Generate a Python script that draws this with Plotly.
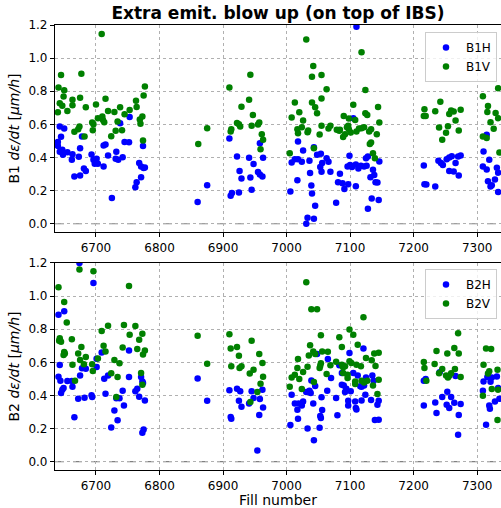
import plotly.graph_objects as go

# ---------------- data ----------------
b1h_fill = [6643, 6650, 6645, 6640, 6640, 6643, 6647, 6648, 6655, 6663, 6662, 6673, 6675, 6678,
            6666, 6675, 6681, 6684, 6693, 6696, 6701, 6698, 6703, 6712, 6712, 6715, 6719, 6731,
            6732, 6735, 6738, 6742, 6745, 6752, 6753, 6725, 6768, 6771, 6775, 6777, 6774, 6771,
            6764, 6762, 6860,
            6875, 6910, 6958, 6922, 6941, 6963, 6948, 6926, 6929, 6943, 6955, 6958, 6962, 6914,
            6912, 6925, 6945,
            7110, 7105, 7018, 7026, 7043, 7013, 7008, 7018, 7024, 7036, 7048, 7054, 7063, 7066,
            7056, 7053, 7055, 7069, 7037, 7017, 7039, 7040, 7006, 7045, 7033, 7043, 7031, 7078,
            7084, 7081, 7088, 7091, 7097, 7109, 7099, 7096, 7100, 7103, 7109, 7113, 7117, 7122,
            7126, 7125, 7128, 7136, 7138, 7132, 7140, 7143, 7146, 7134, 7145, 7128,
            7216, 7217, 7220, 7234, 7239, 7243, 7246, 7252, 7256, 7260, 7266, 7270, 7274, 7256,
            7263, 7271, 7315, 7310, 7309, 7315, 7319, 7317, 7321, 7323, 7328, 7331, 7333, 7333]
b1h_val = [0.587, 0.575, 0.525, 0.494, 0.470, 0.434, 0.446, 0.416, 0.432, 0.420, 0.386, 0.404,
           0.456, 0.527, 0.285, 0.291, 0.334, 0.318, 0.418, 0.386, 0.392, 0.362, 0.362, 0.346,
           0.472, 0.478, 0.412, 0.392, 0.434, 0.386, 0.607, 0.402, 0.494, 0.492, 0.645, 0.155,
           0.366, 0.346, 0.336, 0.340, 0.470, 0.281, 0.251, 0.221, 0.131,
           0.233, 0.515, 0.486, 0.406, 0.398, 0.398, 0.360, 0.318, 0.273, 0.279, 0.312, 0.297,
           0.285, 0.185, 0.169, 0.189, 0.205,
           1.190, 0.637, 0.496, 0.442, 0.462, 0.390, 0.370, 0.390, 0.374, 0.380, 0.416, 0.422,
           0.396, 0.374, 0.366, 0.342, 0.314, 0.314, 0.306, 0.263, 0.231, 0.183, 0.195, 0.109,
           0.036, 0.030, 0.000, 0.127, 0.302, 0.251, 0.245, 0.209, 0.239, 0.227, 0.410, 0.346,
           0.354, 0.342, 0.358, 0.334, 0.350, 0.346, 0.350, 0.396, 0.406, 0.326, 0.295, 0.281,
           0.251, 0.249, 0.376, 0.153, 0.143, 0.090,
           0.352, 0.239, 0.237, 0.225, 0.380, 0.366, 0.354, 0.390, 0.400, 0.408, 0.366, 0.406,
           0.412, 0.318, 0.316, 0.291, 0.537, 0.436, 0.346, 0.328, 0.386, 0.257, 0.225, 0.233,
           0.267, 0.338, 0.308, 0.191]

b1v_fill = [6709, 6645, 6677, 6641, 6650, 6777, 6643, 6647, 6649, 6663, 6675, 6663, 6640, 6655,
            6684, 6700, 6715, 6719, 6729, 6738, 6745, 6753, 6763, 6764, 6775, 6773, 6769, 6770,
            6694, 6696, 6703, 6710, 6711, 6713, 6734, 6724, 6731, 6741, 6695, 6674, 6672, 6666,
            6682, 6774, 6861,
            6875, 6910, 6943, 6941, 6929, 6947, 6922, 6925, 6927, 6913, 6912, 6945, 6955, 6957,
            6961, 6963, 6959,
            7031, 7118, 7042, 7040, 7055, 7063, 7124, 7013, 7040, 7055, 7045, 7048, 7020, 7008,
            7026, 7105, 7144, 7124, 7127, 7090, 7098, 7108, 7146, 7017, 7018, 7024, 7034, 7033,
            7055, 7052, 7066, 7069, 7079, 7083, 7084, 7092, 7089, 7095, 7097, 7098, 7101, 7110,
            7114, 7118, 7122, 7130, 7133, 7142, 7133, 7131, 7136, 7139, 7005, 7043,
            7217, 7216, 7219, 7234, 7242, 7256, 7259, 7263, 7266, 7274, 7240, 7254, 7251, 7271,
            7245, 7309, 7333, 7317, 7316, 7329, 7333, 7321, 7326, 7309, 7315, 7335]
b1v_val = [1.146, 0.898, 0.905, 0.822, 0.806, 0.828, 0.728, 0.712, 0.768, 0.748, 0.760, 0.716,
           0.673, 0.681, 0.703, 0.720, 0.754, 0.681, 0.675, 0.703, 0.661, 0.687, 0.742, 0.705,
           0.774, 0.647, 0.629, 0.603, 0.611, 0.601, 0.637, 0.647, 0.627, 0.613, 0.617, 0.529,
           0.561, 0.565, 0.565, 0.587, 0.571, 0.555, 0.527, 0.503, 0.482,
           0.577, 0.822, 0.900, 0.748, 0.706, 0.657, 0.609, 0.601, 0.587, 0.571, 0.557, 0.591,
           0.599, 0.611, 0.541, 0.507, 0.450,
           1.113, 1.035, 0.953, 0.888, 0.898, 0.812, 0.808, 0.732, 0.732, 0.756, 0.703, 0.667,
           0.673, 0.641, 0.623, 0.718, 0.705, 0.667, 0.657, 0.651, 0.635, 0.627, 0.611, 0.571,
           0.547, 0.583, 0.563, 0.553, 0.591, 0.539, 0.575, 0.591, 0.567, 0.561, 0.567, 0.541,
           0.523, 0.583, 0.591, 0.571, 0.551, 0.557, 0.575, 0.577, 0.583, 0.557, 0.571, 0.541,
           0.490, 0.482, 0.426, 0.396, 0.426, 0.456,
           0.691, 0.651, 0.651, 0.679, 0.736, 0.663, 0.683, 0.677, 0.623, 0.689, 0.581, 0.589,
           0.549, 0.563, 0.507, 0.770, 0.818, 0.711, 0.675, 0.669, 0.637, 0.613, 0.573, 0.527,
           0.517, 0.430]

b2h_fill = [6674, 6696, 6641, 6650, 6643, 6641, 6644, 6655, 6645, 6647, 6649, 6662, 6663, 6666,
            6672, 6675, 6678, 6684, 6682, 6693, 6694, 6701, 6701, 6709, 6713, 6719, 6715, 6729,
            6734, 6724, 6732, 6737, 6742, 6744, 6752, 6752, 6762, 6765, 6768, 6771, 6773, 6774,
            6777, 6775, 6773, 6860,
            6875, 6910, 6922, 6927, 6945, 6962, 6948, 6958, 6925, 6941, 6929, 6963, 6912, 6913,
            6957, 6954,
            7121, 7099, 7048, 7065, 7083, 7087, 7112, 7105, 7135, 7137, 7125, 7070, 7039, 7045,
            7087, 7090, 7094, 7101, 7092, 7116, 7118, 7122, 7031, 7036, 7038, 7064, 7008, 7124,
            7013, 7019, 7024, 7026, 7017, 7042, 7055, 7078, 7097, 7097, 7108, 7118, 7133, 7145,
            7143, 7109, 7110, 7056, 7080, 7053, 7054, 7018, 7006, 7033, 7052, 7043, 7139, 7145,
            7266, 7241, 7219, 7216, 7253, 7245, 7259, 7234, 7252, 7256, 7264, 7274, 7216, 7236,
            7271, 7270, 7316, 7323, 7331, 7310, 7321, 7333, 7309, 7335, 7328, 7319, 7320, 7314]
b2h_val = [1.200, 1.079, 0.888, 0.908, 0.584, 0.513, 0.489, 0.487, 0.415, 0.435, 0.445, 0.487,
           0.453, 0.268, 0.381, 0.521, 0.564, 0.562, 0.387, 0.401, 0.391, 0.572, 0.622, 0.660,
           0.501, 0.521, 0.411, 0.310, 0.250, 0.207, 0.383, 0.383, 0.429, 0.340, 0.672, 0.511,
           0.425, 0.441, 0.393, 0.511, 0.485, 0.475, 0.370, 0.195, 0.175, 0.503,
           0.368, 0.431, 0.441, 0.425, 0.425, 0.435, 0.385, 0.379, 0.368, 0.352, 0.332, 0.328,
           0.270, 0.260, 0.282, 0.068,
           0.683, 0.656, 0.650, 0.620, 0.582, 0.536, 0.521, 0.536, 0.521, 0.489, 0.509, 0.505,
           0.491, 0.457, 0.465, 0.461, 0.441, 0.425, 0.421, 0.455, 0.453, 0.461, 0.421, 0.429,
           0.415, 0.429, 0.405, 0.405, 0.352, 0.352, 0.340, 0.364, 0.314, 0.352, 0.389, 0.385,
           0.368, 0.340, 0.364, 0.370, 0.372, 0.368, 0.344, 0.324, 0.316, 0.312, 0.280, 0.276,
           0.264, 0.260, 0.221, 0.201, 0.205, 0.129, 0.252, 0.254,
           0.517, 0.540, 0.499, 0.489, 0.423, 0.391, 0.391, 0.358, 0.344, 0.324, 0.356, 0.348,
           0.340, 0.294, 0.282, 0.163, 0.511, 0.509, 0.515, 0.485, 0.483, 0.445, 0.429, 0.380,
           0.364, 0.340, 0.320, 0.223]

b2v_fill = [6674, 6696, 6641, 6752, 6650, 6654, 6643, 6642, 6645, 6662, 6677, 6672, 6650, 6649,
            6651, 6684, 6675, 6663, 6681, 6694, 6703, 6695, 6667, 6709, 6719, 6744, 6762, 6753,
            6768, 6773, 6712, 6715, 6777, 6774, 6765, 6742, 6729, 6737, 6724, 6734, 6732, 6771,
            6773, 6860,
            6875, 6910, 6922, 6912, 6945, 6925, 6957, 6962, 6913, 6929, 6926, 6948, 6942, 6963,
            6959, 6954, 6943,
            7031, 7039, 7048, 7121, 7099, 7054, 7105, 7083, 7037, 7087, 7112, 7042, 7035, 7045,
            7056, 7065, 7138, 7145, 7125, 7134, 7018, 7054, 7053, 7052, 7069, 7078, 7087, 7092,
            7099, 7102, 7110, 7117, 7140, 7017, 7026, 7013, 7008, 7033, 7063, 7089, 7096, 7020,
            7005, 7024, 7043, 7096, 7108, 7108, 7118, 7122, 7127, 7136, 7145, 7143, 7089,
            7270, 7264, 7236, 7253, 7271, 7216, 7233, 7217, 7245, 7265, 7240, 7251, 7254, 7259,
            7256, 7274, 7220, 7314, 7322, 7310, 7319, 7317, 7332, 7323, 7333, 7309, 7332]
b2v_val = [1.160, 1.150, 1.053, 1.061, 0.964, 0.840, 0.745, 0.731, 0.725, 0.739, 0.693, 0.654,
           0.662, 0.644, 0.654, 0.632, 0.614, 0.586, 0.588, 0.588, 0.624, 0.548, 0.489, 0.789,
           0.821, 0.825, 0.819, 0.767, 0.737, 0.773, 0.700, 0.666, 0.672, 0.648, 0.680, 0.690,
           0.614, 0.594, 0.534, 0.511, 0.391, 0.536, 0.465, 0.761,
           0.592, 0.769, 0.693, 0.683, 0.731, 0.640, 0.650, 0.596, 0.576, 0.576, 0.566, 0.556,
           0.532, 0.513, 0.471, 0.421, 0.360,
           1.083, 0.920, 0.920, 0.872, 0.799, 0.763, 0.767, 0.751, 0.703, 0.693, 0.707, 0.666,
           0.642, 0.650, 0.666, 0.664, 0.654, 0.658, 0.626, 0.612, 0.620, 0.594, 0.580, 0.566,
           0.582, 0.604, 0.586, 0.576, 0.606, 0.596, 0.586, 0.576, 0.578, 0.566, 0.542, 0.525,
           0.509, 0.574, 0.529, 0.536, 0.525, 0.499, 0.453, 0.439, 0.481, 0.505, 0.485, 0.469,
           0.489, 0.479, 0.489, 0.461, 0.495, 0.409, 0.570,
           0.775, 0.687, 0.668, 0.654, 0.654, 0.602, 0.590, 0.566, 0.560, 0.560, 0.534, 0.521,
           0.509, 0.534, 0.519, 0.511, 0.489, 0.683, 0.681, 0.586, 0.546, 0.532, 0.556, 0.439,
           0.435, 0.399, 0.252]

x_ticks = [6700, 6800, 6900, 7000, 7100, 7200, 7300]
y_ticks = [0.0, 0.2, 0.4, 0.6, 0.8, 1.0, 1.2]

# ---------------- figure ----------------
FONT = "DejaVu Sans"
BLUE = "#0000ff"
GREEN = "#008000"

fig = go.Figure()

def add(xs, ys, name, color, xa, ya, leg):
    fig.add_trace(go.Scatter(x=xs, y=ys, mode="markers", name=name,
                             marker=dict(color=color, size=6.5, line=dict(width=0)),
                             xaxis=xa, yaxis=ya, legend=leg))

add(b1h_fill, b1h_val, "B1H", BLUE, "x", "y", "legend")
add(b1v_fill, b1v_val, "B1V", GREEN, "x", "y", "legend")
add(b2h_fill, b2h_val, "B2H", BLUE, "x2", "y2", "legend2")
add(b2v_fill, b2v_val, "B2V", GREEN, "x2", "y2", "legend2")

xax = dict(range=[6635.5, 7337.5], tickvals=x_ticks, ticktext=[str(v) for v in x_ticks],
           showgrid=True, gridcolor="#b0b0b0", griddash="dot", gridwidth=1,
           showline=True, linecolor="black", linewidth=1.2, mirror=True,
           ticks="outside", ticklen=4, tickcolor="black",
           tickfont=dict(family=FONT, size=12, color="black"), zeroline=False)
yax = dict(range=[-0.05, 1.2], tickvals=y_ticks, ticktext=[f"{v:.1f}" for v in y_ticks],
           showgrid=True, gridcolor="#b0b0b0", griddash="dot", gridwidth=1,
           showline=True, linecolor="black", linewidth=1.2, mirror=True,
           ticks="outside", ticklen=4, tickcolor="black",
           tickfont=dict(family=FONT, size=12, color="black"), zeroline=False)

top_dom = [0.5348, 1.0]
bot_dom = [0.0, 0.4652]

legend_style = dict(xanchor="right", yanchor="top",
                    bgcolor="rgba(255,255,255,0.8)", bordercolor="#cccccc", borderwidth=1,
                    font=dict(family=FONT, size=12), itemwidth=30,
                    tracegroupgap=0)

fig.update_layout(
    width=501, height=508,
    margin=dict(l=55, r=0, t=25, b=38),
    plot_bgcolor="white", paper_bgcolor="white",
    font=dict(family=FONT, color="black"),
    title=dict(text="<b>Extra emit. blow up (on top of IBS)</b>", x=0.5, xref="paper",
               y=1 - 13 / 508, yref="container", yanchor="middle", xanchor="center",
               font=dict(family=FONT, size=17, color="black")),
    xaxis=dict(**xax, domain=[0, 1], anchor="y"),
    yaxis=dict(**yax, domain=top_dom, anchor="x",
               title=dict(text="B1 <i>dε/dt</i> [<i>μm/h</i>]", standoff=5,
                          font=dict(family=FONT, size=14))),
    xaxis2=dict(**xax, domain=[0, 1], anchor="y2",
                title=dict(text="Fill number", standoff=1, font=dict(family=FONT, size=14))),
    yaxis2=dict(**yax, domain=bot_dom, anchor="x2",
                title=dict(text="B2 <i>dε/dt</i> [<i>μm/h</i>]", standoff=5,
                           font=dict(family=FONT, size=14))),
    legend=dict(x=0.991, y=0.984, **legend_style),
    legend2=dict(x=0.991, y=0.4517, **legend_style),
)

# dashed zero reference lines
for xr, yr in (("x domain", "y"), ("x2 domain", "y2")):
    fig.add_shape(type="line", xref=xr, yref=yr, x0=0, x1=1, y0=0, y1=0,
                  line=dict(color="gray", width=1.2, dash="dash"), layer="below")

fig.write_html("out.html", config={"displayModeBar": False},
               post_script="document.body.style.margin='0px';document.body.style.overflow='hidden';")
